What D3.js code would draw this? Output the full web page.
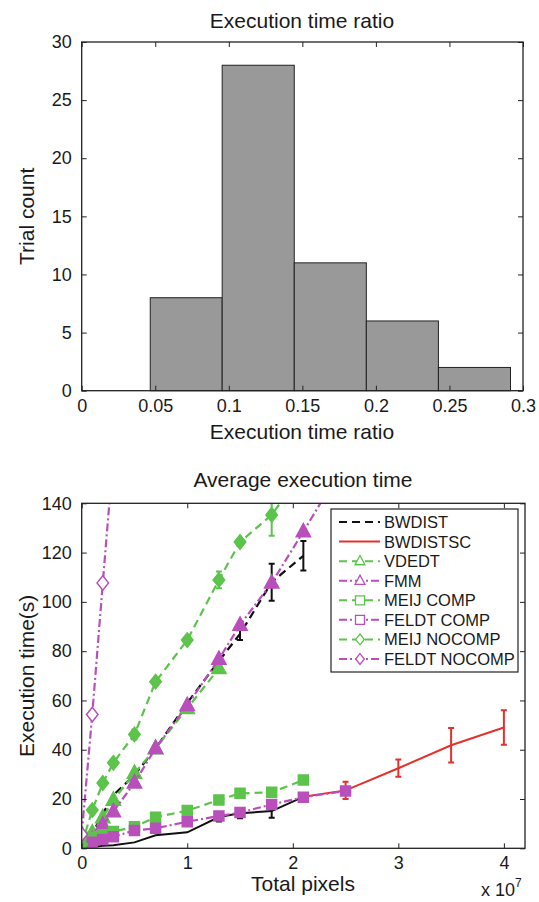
<!DOCTYPE html>
<html>
<head>
<meta charset="utf-8">
<script src="https://cdn.jsdelivr.net/npm/d3@7"></script>
<style>
  body { margin: 0; background: #fff; }
  text { font-family: "Liberation Sans", Arial, sans-serif; fill: #1a1a1a; }
</style>
</head>
<body>
<svg id="chart" width="539" height="902"></svg>
<script>
// --- histogram: execution time ratio ---
const ratioBinEdges = [0, 0.0466, 0.0955, 0.1445, 0.1935, 0.2425, 0.2915];
const trialCounts = [0, 8, 28, 11, 6, 2];
const ratioTicks = [0, 0.05, 0.1, 0.15, 0.2, 0.25, 0.3];
const countTicks = [0, 5, 10, 15, 20, 25, 30];

// --- average execution time (x in units of 10^7 pixels) ---
const totalPixels = [0, 0.1, 0.2, 0.3, 0.5, 0.7, 1.0, 1.3, 1.5, 1.8, 2.1, 2.5, 3.0, 3.5, 4.0];
const pixelTicks = [0, 1, 2, 3, 4];
const timeTicks = [0, 20, 40, 60, 80, 100, 120, 140];

const bwdist      = [0, 6, 14, 21.6, 29.7, 40.5, 59, 76, 87, 108, 118.7];
const bwdistErr   = [0, 0, 0, 0, 0, 0, 0, 0, 2.5, 7.5, 6];
const bwdistsc    = [0, 0.5, 1.0, 1.2, 2.4, 5.3, 6.5, 12.7, 14.2, 15.1, 20.9, 23.5, 32.5, 41.8, 49];
const bwdistscErr = [0, 0, 0, 0, 0, 0, 0, 1.8, 2, 2.7, 1.5, 3.5, 3.5, 7, 7];
const vdedt       = [0.5, 6.3, 12.5, 19.6, 30.5, 40.5, 56.8, 73];
const fmm         = [0, 3.6, 9.5, 14.9, 26.6, 40.6, 58, 76.8, 90.6, 107.7, 128.5, 157];
const meijComp    = [1.5, 4.5, 5.5, 6.8, 8.7, 12.6, 15.3, 19.6, 22.3, 22.7, 27.7];
const feldtComp   = [0.5, 2.5, 3.6, 4.7, 7.2, 8.1, 10.8, 13.1, 14.5, 17.8, 20.7, 23.3];
const meijNocomp  = [1.5, 15.5, 26.5, 34.7, 46.2, 67.6, 84.5, 108.9, 124.3, 135.3, 153];
const meijNocompErr = [0, 0, 0, 1, 2, 0, 0, 3.4, 0, 8.5, 0];
const feldtNocomp = [5.7, 54.3, 107.7, 160];

const GREEN = '#5cc34b', MAGENTA = '#b94fba', RED = '#e2322b', BLACK = '#111';
const DASH = '8 5', DASHDOT = '8 3 2 3';

const svg = d3.select('#chart');
const tickFont = 18, labelFont = 21;

function boxAxes(g, x, y, xt, yt, xfmt, yfmt, pad) {
  const [x0, x1] = x.range(), [y0, y1] = y.range();
  g.append('g').attr('transform', `translate(0,${y0})`)
    .call(d3.axisBottom(x).tickValues(xt).tickSize(-5).tickPadding(pad).tickFormat(xfmt));
  g.append('g').attr('transform', `translate(0,${y1})`)
    .call(d3.axisTop(x).tickValues(xt).tickSize(-5).tickFormat(''));
  g.append('g').attr('transform', `translate(${x0},0)`)
    .call(d3.axisLeft(y).tickValues(yt).tickSize(-5).tickPadding(10).tickFormat(yfmt));
  g.append('g').attr('transform', `translate(${x1},0)`)
    .call(d3.axisRight(y).tickValues(yt).tickSize(-5).tickFormat(''));
  g.selectAll('.domain').remove();
  g.selectAll('.tick line').attr('stroke', '#222').attr('stroke-width', 1);
  g.selectAll('.tick text').attr('font-size', tickFont).attr('fill', '#1a1a1a')
    .style('font-family', '"Liberation Sans", Arial, sans-serif');
  g.append('rect').attr('x', x0).attr('y', y1).attr('width', x1 - x0).attr('height', y0 - y1)
    .attr('fill', 'none').attr('stroke', '#222').attr('stroke-width', 1.3);
}

// ===== top: histogram =====
const tx = d3.scaleLinear([0, 0.3], [81.7, 523]);
const ty = d3.scaleLinear([0, 30], [390.7, 42]);
const histG = svg.append('g');

histG.selectAll('.bar').data(trialCounts).enter().append('rect')
  .attr('x', (d, i) => tx(ratioBinEdges[i]))
  .attr('width', (d, i) => tx(ratioBinEdges[i + 1]) - tx(ratioBinEdges[i]))
  .attr('y', d => ty(d)).attr('height', d => ty(0) - ty(d))
  .attr('fill', '#999').attr('stroke', '#222').attr('stroke-width', 1);

boxAxes(histG, tx, ty, ratioTicks, countTicks, d => String(d), d => String(d), 9);

histG.append('text').attr('x', 302).attr('y', 28).attr('text-anchor', 'middle')
  .attr('font-size', labelFont).text('Execution time ratio');
histG.append('text').attr('x', 302).attr('y', 439).attr('text-anchor', 'middle')
  .attr('font-size', labelFont).text('Execution time ratio');
histG.append('text').attr('transform', `translate(34,${(ty(0) + ty(30)) / 2}) rotate(-90)`)
  .attr('text-anchor', 'middle').attr('font-size', labelFont).text('Trial count');

// ===== bottom: average execution time =====
const bx = d3.scaleLinear([0, 4.2], [81.7, 525]);
const by = d3.scaleLinear([0, 140], [848.3, 503.3]);
const bot = svg.append('g');

svg.append('defs').append('clipPath').attr('id', 'plotclip').append('rect')
  .attr('x', bx(0)).attr('y', by(140)).attr('width', bx(4.2) - bx(0)).attr('height', by(0) - by(140));

function markerPath(type, s) {
  if (type === 'tri') return `M0,${-s * 0.62}L${s * 0.55},${s * 0.4}L${-s * 0.55},${s * 0.4}Z`;
  if (type === 'sq') return `M${-s / 2},${-s / 2}h${s}v${s}h${-s}Z`;
  if (type === 'dia') return `M0,${-s * 0.6}L${s * 0.48},0L0,${s * 0.6}L${-s * 0.48},0Z`;
  return '';
}

const series = [
  {name: 'BWDIST', values: bwdist, err: bwdistErr, color: BLACK, dash: DASH, marker: null},
  {name: 'BWDISTSC', values: bwdistsc, err: bwdistscErr, color: RED, dash: null, marker: null, split: 10},
  {name: 'VDEDT', values: vdedt, color: GREEN, dash: DASH, marker: 'tri', size: 13, fill: true},
  {name: 'FMM', values: fmm, color: MAGENTA, dash: DASHDOT, marker: 'tri', size: 13, fill: true},
  {name: 'MEIJ COMP', values: meijComp, color: GREEN, dash: DASH, marker: 'sq', size: 10, fill: true},
  {name: 'FELDT COMP', values: feldtComp, color: MAGENTA, dash: DASHDOT, marker: 'sq', size: 10, fill: true},
  {name: 'MEIJ NOCOMP', values: meijNocomp, err: meijNocompErr, color: GREEN, dash: DASH, marker: 'dia', size: 12, fill: true},
  {name: 'FELDT NOCOMP', values: feldtNocomp, color: MAGENTA, dash: DASHDOT, marker: 'dia', size: 12, fill: false}
];

const plot = bot.append('g').attr('clip-path', 'url(#plotclip)');
const line = d3.line().x(d => bx(d.x)).y(d => by(d.v));

series.forEach(s => {
  const pts = s.values.map((v, i) => ({x: totalPixels[i], v, e: s.err ? s.err[i] : 0}));
  const g = plot.append('g');
  if (s.split != null) {
    // overlap region drawn black, extended range in red
    g.append('path').attr('d', line(pts.slice(0, s.split + 1)))
      .attr('fill', 'none').attr('stroke', BLACK).attr('stroke-width', 2);
    g.append('path').attr('d', line(pts.slice(s.split)))
      .attr('fill', 'none').attr('stroke', s.color).attr('stroke-width', 2);
  } else {
    g.append('path').attr('d', line(pts)).attr('fill', 'none')
      .attr('stroke', s.color).attr('stroke-width', 2.2)
      .attr('stroke-dasharray', s.dash);
  }
  const errPts = pts.filter(p => p.e > 0);
  const ec = p => (s.split != null && pts.indexOf(p) <= s.split) ? BLACK : s.color;
  g.selectAll('.eb').data(errPts).enter().append('path')
    .attr('d', p => `M${bx(p.x)},${by(p.v - p.e)}V${by(p.v + p.e)}` +
      `M${bx(p.x) - 3},${by(p.v - p.e)}h6M${bx(p.x) - 3},${by(p.v + p.e)}h6`)
    .attr('fill', 'none').attr('stroke', ec).attr('stroke-width', 2);
  if (s.marker) {
    g.selectAll('.mk').data(pts).enter().append('path')
      .attr('transform', p => `translate(${bx(p.x)},${by(p.v)})`)
      .attr('d', markerPath(s.marker, s.size))
      .attr('fill', s.fill ? s.color : 'white')
      .attr('stroke', s.color).attr('stroke-width', 1.5);
  }
});

boxAxes(bot, bx, by, pixelTicks, timeTicks, d => String(d), d => String(d), 8);

bot.append('text').attr('x', 303).attr('y', 487).attr('text-anchor', 'middle')
  .attr('font-size', labelFont).text('Average execution time');
bot.append('text').attr('x', 303).attr('y', 891).attr('text-anchor', 'middle')
  .attr('font-size', labelFont).text('Total pixels');
bot.append('text').attr('transform', `translate(34,${(by(0) + by(140)) / 2}) rotate(-90)`)
  .attr('text-anchor', 'middle').attr('font-size', labelFont).text('Execution time(s)');
const expo = bot.append('text').attr('x', 481).attr('y', 896).attr('font-size', 18);
expo.append('tspan').text('x 10');
expo.append('tspan').attr('dy', -9).attr('font-size', 12).text('7');

// legend
const lg = bot.append('g');
lg.append('rect').attr('x', 331).attr('y', 509).attr('width', 187).attr('height', 163)
  .attr('fill', 'white').attr('stroke', '#222').attr('stroke-width', 1.2);
const legY = d3.scalePoint(series.map(s => s.name), [522, 659]);
series.forEach(s => {
  const yy = legY(s.name);
  lg.append('line').attr('x1', 339).attr('x2', 380).attr('y1', yy).attr('y2', yy)
    .attr('stroke', s.color).attr('stroke-width', 2).attr('stroke-dasharray', s.dash);
  if (s.marker) {
    lg.append('path').attr('transform', `translate(360,${yy})`)
      .attr('d', markerPath(s.marker, 9))
      .attr('fill', 'white').attr('stroke', s.color).attr('stroke-width', 1.3);
  }
  lg.append('text').attr('x', 384).attr('y', yy).attr('dy', '0.36em')
    .attr('font-size', 16.5).text(s.name);
});
</script>
</body>
</html>
